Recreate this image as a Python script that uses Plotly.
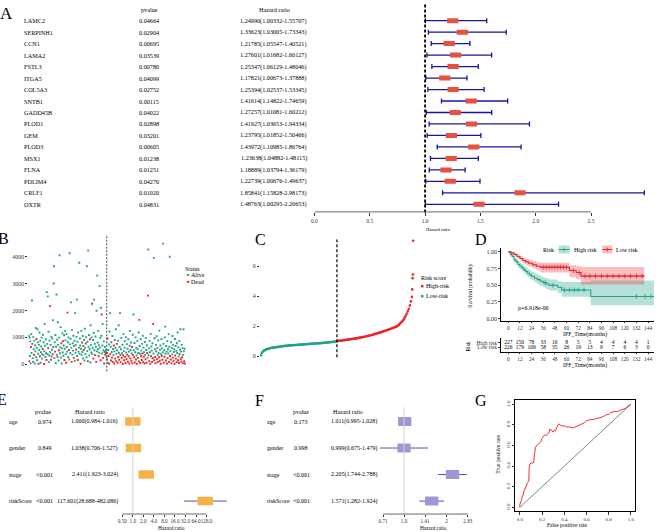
import numpy as np
import plotly.graph_objects as go

W, H = 669, 532
SERIF = "Liberation Serif"
TEAL = "#1FA386"
RED = "#E8262B"
NAVY = "#16169C"
BOXRED = "#EA503E"
ORANGE = "#F8B146"
PURPLE = "#9F97D2"
CI_BLUE = "#5252B6"
TICK = "#333333"

# ---- A: univariate Cox, 17 genes
genes_a = ["LAMC2", "SERPINH1", "CCN1", "LAMA2", "FSTL3", "ITGA5", "COL5A3", "SNTB1",
           "GADD45B", "PLOD1", "GEM", "PLOD3", "MSX1", "FLNA", "PDLIM4", "CRLF1", "OXTR"]
pval_a = [0.04664, 0.02904, 0.00695, 0.03539, 0.00780, 0.04099, 0.02752, 0.00115,
          0.04022, 0.02898, 0.03201, 0.00605, 0.01238, 0.01251, 0.04270, 0.01020, 0.04831]
hr_a = [1.24990, 1.33623, 1.21785, 1.27601, 1.25347, 1.17821, 1.25394, 1.41614,
        1.27257, 1.41927, 1.23795, 1.43972, 1.23638, 1.18889, 1.22739, 1.85841, 1.48763]
lo_a = [1.00332, 1.03005, 1.05547, 1.01682, 1.06129, 1.00673, 1.02537, 1.14822,
        1.01081, 1.03653, 1.01852, 1.10985, 1.04882, 1.03794, 1.00676, 1.15828, 1.00295]
hi_a = [1.55707, 1.73343, 1.40521, 1.60127, 1.48046, 1.37888, 1.53345, 1.74659,
        1.60212, 1.94334, 1.50466, 1.86764, 1.48115, 1.36179, 1.49637, 2.98173, 2.20653]
ticks_a = [0.0, 0.5, 1.0, 1.5, 2.0, 2.5]

# ---- B: survival time by patient (ordered by risk score)
b_low_days = [
    1050, 120, 980, 310, 850, 40, 640, 1120, 420, 2370, 760, 230, 90, 1010, 560, 350, 880, 30, 700, 480,
    1350, 260, 940, 610, 150, 1300, 820, 390, 20, 720, 530, 1180, 300, 870, 60, 450, 660, 990, 210, 380,
    570, 1100, 340, 820, 10, 490, 1500, 690, 270, 930, 410, 160, 2680, 760, 380, 2520, 600, 1210, 80, 330,
    880, 2160, 450, 720, 170, 1020, 290, 540, 960, 380, 1640, 640, 3000, 3640, 230, 820, 470, 1090, 50, 650,
    2590, 360, 910, 280, 1560, 720, 140, 520, 990, 4050, 410, 630, 1380, 250, 780, 30, 590, 1150, 440, 860,
    320, 700, 1080, 160, 580, 1240, 890, 380, 60, 1120, 640, 470, 1920, 820, 270, 1000, 530, 180, 4120, 740,
    420, 950, 2300, 620, 90, 1280, 360, 780, 510, 1060, 240, 680, 870, 130, 1900, 430, 720, 550, 1020, 2400,
    310, 840, 160, 1180, 470, 620, 3770, 390, 960, 700, 20, 580, 1240, 350, 810, 460, 1050, 220, 680, 530,
    900, 140, 1320, 610, 380, 770, 1010, 260, 3640, 490, 840, 120, 4220, 650, 1090, 330, 560, 930, 70, 1450,
    720, 440, 1000, 2250, 380, 610, 900, 210, 1160, 2400, 520, 760, 340, 1030, 650, 90, 1990, 480, 3290, 810,
    560, 1240, 300, 710, 430, 2900, 620, 980, 150, 2100, 1060, 1850, 400, 700, 1500, 240, 520, 850, 30, 460,
    640, 360, 480, 520, 410, 280]
b_high_days = [
    420, 180, 960, 60, 530, 310, 740, 20, 1220, 1900, 380, 650, 140, 820, 460, 250, 1050, 90, 570, 340,
    700, 30, 480, 900, 210, 610, 1300, 120, 390, 760, 520, 60, 880, 270, 1450, 430, 170, 640, 1900, 350,
    80, 560, 980, 240, 410, 720, 10, 330, 1120, 490, 150, 620, 860, 280, 50, 1010, 440, 190, 750, 360,
    580, 100, 930, 300, 470, 30, 690, 1240, 220, 530, 810, 130, 400, 640, 40, 1100, 350, 1850, 520, 260,
    790, 70, 450, 1000, 180, 610, 330, 20, 870, 560, 240, 420, 1180, 110, 1650, 680, 390, 50, 940, 300,
    510, 160, 760, 400, 1060, 80, 620, 280, 450, 30, 830, 350, 190, 980, 530, 60, 710, 420, 250, 2550,
    4260, 340, 590, 120, 870, 450, 20, 1130, 300, 660, 510, 90, 780, 230, 1500, 400, 3950, 150, 970, 560,
    270, 40, 720, 480, 1040, 190, 610, 350, 80, 890, 420, 260, 1250, 130, 540, 700, 20, 380, 930, 310,
    590, 170, 450, 4480, 760, 60, 520, 280, 1000, 1400, 390, 140, 680, 470, 30, 860, 230, 560, 400, 1120,
    90, 650, 3990, 310, 490, 180, 820, 40, 600, 370, 1050, 250, 720, 130, 460, 560, 20, 940, 330, 680,
    210, 500, 80, 780, 420, 1180, 150, 630, 290, 50, 860, 380, 540, 1300, 190, 470, 100, 720, 260, 600,
    40, 350, 1300, 480, 120, 580, 30]
# 1-based positions (inside each group) of patients who died
b_low_dead = [2, 7, 11, 16, 23, 29, 33, 41, 45, 52, 57, 62, 65, 70, 77, 84, 88, 95, 100, 104, 109,
              113, 117, 125, 131, 138, 143, 151, 155, 160, 166, 172, 178, 184, 188, 193, 196, 203,
              209, 212, 216, 219, 222, 225]
b_high_dead = [1, 3, 6, 8, 11, 13, 16, 18, 21, 22, 25, 28, 30, 32, 34, 37, 40, 41, 44, 47, 48, 51,
               54, 55, 58, 60, 62, 64, 66, 69, 72, 74, 75, 77, 80, 82, 85, 88, 91, 94, 95, 98, 100,
               102, 104, 106, 108, 110, 113, 116, 118, 120, 124, 127, 129, 132, 134, 135, 138, 141,
               142, 144, 146, 149, 152, 154, 157, 160, 162, 166, 168, 172, 175, 177, 181, 184, 186,
               188, 192, 194, 197, 199, 201, 203, 207, 210, 212, 215, 217, 219, 221, 225, 227]
ticks_b = [0, 1000, 2000, 3000, 4000]

# ---- C: sorted risk score (every third patient, plus the top tail)
c_low_scores = [
    0.06, 0.22, 0.30, 0.36, 0.40, 0.43, 0.46, 0.48, 0.50, 0.52,
    0.54, 0.55, 0.56, 0.57, 0.58, 0.59, 0.60, 0.61, 0.62, 0.63,
    0.64, 0.65, 0.66, 0.67, 0.68, 0.69, 0.69, 0.70, 0.71, 0.71,
    0.72, 0.72, 0.73, 0.73, 0.74, 0.74, 0.75, 0.75, 0.76, 0.76,
    0.77, 0.77, 0.78, 0.78, 0.79, 0.79, 0.80, 0.80, 0.81, 0.81,
    0.82, 0.82, 0.83, 0.83, 0.84, 0.84, 0.85, 0.85, 0.86, 0.86,
    0.87, 0.87, 0.88, 0.89, 0.89, 0.90, 0.91, 0.91, 0.92, 0.93,
    0.94, 0.94, 0.95, 0.96, 0.97, 0.98]
c_high_scores = [
    1.00, 1.01, 1.02, 1.02, 1.03, 1.04, 1.05, 1.06, 1.07, 1.08,
    1.09, 1.10, 1.11, 1.12, 1.13, 1.14, 1.15, 1.16, 1.17, 1.18,
    1.19, 1.21, 1.22, 1.23, 1.25, 1.26, 1.27, 1.29, 1.30, 1.32,
    1.33, 1.35, 1.37, 1.38, 1.40, 1.42, 1.44, 1.46, 1.48, 1.50,
    1.52, 1.54, 1.56, 1.58, 1.60, 1.63, 1.65, 1.67, 1.70, 1.72,
    1.74, 1.77, 1.79, 1.82, 1.84, 1.87, 1.89, 1.92, 1.95, 1.98,
    2.02, 2.08, 2.15, 2.22, 2.29, 2.36, 2.45, 2.57, 2.70, 2.84,
    3.00, 3.16, 3.38, 3.65, 3.95]
c_tail_scores = [4.45, 5.20, 5.45, 7.70]
c_step = 3
ticks_c = [0, 2, 4, 6]

# ---- D: Kaplan-Meier by risk group
km_high_t = [0, 2, 4, 6, 8, 10, 12, 14, 16, 18, 20, 22, 24, 27, 30, 33, 36, 39, 42, 51, 55, 85, 150]
km_high_s = [1.0, 0.96, 0.93, 0.88, 0.85, 0.81, 0.785, 0.76, 0.73, 0.705, 0.68, 0.655, 0.635,
             0.605, 0.585, 0.56, 0.54, 0.52, 0.50, 0.47, 0.43, 0.333, 0.333]
km_high_lo = [1.0, 0.935, 0.90, 0.845, 0.81, 0.765, 0.735, 0.71, 0.675, 0.65, 0.62, 0.595, 0.57,
              0.54, 0.515, 0.49, 0.465, 0.445, 0.42, 0.385, 0.33, 0.20, 0.20]
km_high_up = [1.0, 0.985, 0.96, 0.915, 0.89, 0.855, 0.835, 0.815, 0.785, 0.765, 0.74, 0.72, 0.70,
              0.675, 0.655, 0.635, 0.615, 0.60, 0.585, 0.56, 0.55, 0.57, 0.57]
km_high_cens = [38, 46, 58, 63, 68, 72, 78, 132, 141, 147]
km_low_t = [0, 3, 6, 9, 12, 15, 18, 21, 25, 29, 33, 63, 70, 75, 140]
km_low_s = [1.0, 0.985, 0.96, 0.93, 0.90, 0.87, 0.85, 0.83, 0.805, 0.785, 0.77, 0.72, 0.69, 0.637, 0.637]
km_low_lo = [1.0, 0.97, 0.935, 0.90, 0.865, 0.83, 0.805, 0.78, 0.75, 0.725, 0.69, 0.62, 0.59, 0.51, 0.51]
km_low_up = [1.0, 1.0, 0.985, 0.96, 0.935, 0.91, 0.895, 0.88, 0.86, 0.845, 0.835, 0.80, 0.785, 0.775, 0.775]
km_low_cens = [36, 39, 42, 45, 48, 51, 54, 57, 60, 67, 73, 79, 84, 90, 96, 102, 108, 114, 120,
               126, 132, 138]
risk_times = [0, 12, 24, 36, 48, 60, 72, 84, 96, 108, 120, 132, 144]
risk_high = [227, 150, 78, 33, 16, 8, 5, 5, 4, 4, 4, 4, 1]
risk_low = [226, 179, 109, 58, 35, 26, 19, 13, 9, 7, 6, 3, 0]
km_p = "p=6.918e-06"

# ---- E / F: uni- and multivariate Cox of clinical factors
vars_ef = ["age", "gender", "stage", "riskScore"]
p_e = ["0.974", "0.849", "<0.001", "<0.001"]
hr_e = [1.000, 1.038, 2.411, 117.601]
lo_e = [0.984, 0.706, 1.923, 28.688]
hi_e = [1.016, 1.527, 3.024, 482.086]
ticks_e = [0.5, 1, 2, 4, 8, 16, 32, 64, 128]
p_f = ["0.173", "0.998", "<0.001", "<0.001"]
hr_f = [1.011, 0.999, 2.205, 1.571]
lo_f = [0.995, 0.675, 1.744, 1.282]
hi_f = [1.028, 1.479, 2.788, 1.924]
ticks_f = [0.71, 1.0, 1.41, 2.0, 2.83]

# ---- G: ROC
roc_fpr = [0.00, 0.00, 0.01, 0.015, 0.02, 0.03, 0.035, 0.045, 0.05, 0.06, 0.07, 0.08, 0.08, 0.085,
           0.09, 0.10, 0.12, 0.125, 0.13, 0.135, 0.14, 0.15, 0.165, 0.18, 0.19, 0.20, 0.21, 0.22,
           0.24, 0.25, 0.26, 0.27, 0.28, 0.29, 0.30, 0.31, 0.32, 0.33, 0.34, 0.35, 0.36, 0.38,
           0.40, 0.42, 0.45, 0.48, 0.50, 0.52, 0.55, 0.58, 0.60, 0.63, 0.67, 0.70, 0.72, 0.75,
           0.78, 0.80, 0.82, 0.85, 0.88, 0.90, 0.93, 0.95, 0.97, 1.00]
roc_tpr = [0.00, 0.03, 0.06, 0.07, 0.10, 0.12, 0.15, 0.18, 0.20, 0.23, 0.24, 0.25, 0.33, 0.40,
           0.42, 0.43, 0.43, 0.44, 0.50, 0.56, 0.58, 0.60, 0.61, 0.63, 0.64, 0.67, 0.69, 0.70,
           0.70, 0.71, 0.72, 0.76, 0.75, 0.74, 0.73, 0.75, 0.74, 0.77, 0.80, 0.81, 0.80, 0.79,
           0.79, 0.78, 0.78, 0.77, 0.78, 0.79, 0.80, 0.82, 0.84, 0.85, 0.855, 0.86, 0.87, 0.88,
           0.90, 0.90, 0.92, 0.93, 0.93, 0.94, 0.95, 0.96, 0.98, 1.00]
ticks_g = [0.0, 0.2, 0.4, 0.6, 0.8, 1.0]

annotations, shapes = [], []


def xdom(a, b):
    return [a / W, b / W]


def ydom(top, bottom):
    return [1 - bottom / H, 1 - top / H]


def note(x, y, text, size=6, anchor="center", yref="paper", angle=0, color="black"):
    annotations.append(dict(
        x=x / W, xref="paper", y=(1 - y / H) if yref == "paper" else y, yref=yref,
        text=text, showarrow=False, xanchor=anchor, yanchor="middle", textangle=angle,
        borderpad=0, font=dict(family=SERIF, size=size, color=color)))


def vline(xref, x, top, bottom, color="black", width=1, dash="solid"):
    shapes.append(dict(type="line", xref=xref, yref="paper", x0=x, x1=x,
                       y0=1 - bottom / H, y1=1 - top / H,
                       line=dict(color=color, width=width, dash=dash)))


def hline(xref, x0, x1, y, color="#444", width=0.8):
    shapes.append(dict(type="line", xref=xref, yref="paper", x0=x0, x1=x1,
                       y0=1 - y / H, y1=1 - y / H, line=dict(color=color, width=width)))


def box_px(x0, y0, x1, y1, fill):
    shapes.append(dict(type="rect", xref="paper", yref="paper", x0=x0 / W, x1=x1 / W,
                       y0=1 - y1 / H, y1=1 - y0 / H, fillcolor=fill, line=dict(width=0)))


def seg_px(x0, y0, x1, y1, color, width=1):
    shapes.append(dict(type="line", xref="paper", yref="paper", x0=x0 / W, x1=x1 / W,
                       y0=1 - y0 / H, y1=1 - y1 / H, line=dict(color=color, width=width)))


def axis(dom, rng, **kw):
    a = dict(domain=dom, range=rng, showgrid=False, zeroline=False, showline=False,
             ticks="", showticklabels=False, fixedrange=True)
    a.update(kw)
    return a


def tickstyle(size=6, length=2):
    return dict(ticks="outside", ticklen=length, tickwidth=0.6, tickcolor=TICK,
                showticklabels=True, tickangle=0,
                tickfont=dict(family=SERIF, size=size, color=TICK))


fig = go.Figure()

# ================= A
rows_a = np.arange(len(genes_a))
hr, lo, hi = np.array(hr_a), np.array(lo_a), np.array(hi_a)
fig.add_trace(go.Scatter(
    x=hr, y=rows_a, mode="markers", xaxis="x", yaxis="y",
    marker=dict(symbol="line-ew", size=8, color=BOXRED, line=dict(width=5, color=BOXRED)),
    error_x=dict(type="data", symmetric=False, array=hi - hr, arrayminus=hr - lo,
                 color=NAVY, thickness=1.3, width=2.5)))
for i, (g, p, h, l, u) in enumerate(zip(genes_a, pval_a, hr_a, lo_a, hi_a)):
    note(20, i, g, size=6.2, anchor="left", yref="y")
    note(147, i, f"{p:.5f}", size=6.2, yref="y")
    note(272.5, i, f"{h:.5f}({l:.5f}-{u:.5f})", size=6.2, yref="y")
note(147, 10, "pvalue", size=6.2)
note(273, 10, "Hazard ratio", size=6.2)
note(438, 230, "Hazard ratio", size=4.8)
note(4, 14, "A", size=17)
vline("x", 1, 3, 213, color="black", width=1.8, dash="3px,2px")
hline("x", ticks_a[0], ticks_a[-1], 212.3)

# ================= B
n_low, n_high = len(b_low_days), len(b_high_days)
days = np.array(b_low_days + b_high_days)
dead = np.zeros(len(days), bool)
dead[np.array(b_low_dead) - 1] = True
dead[n_low + np.array(b_high_dead) - 1] = True
idx = np.arange(1, len(days) + 1)
for mask, col in [(~dead, TEAL), (dead, RED)]:
    fig.add_trace(go.Scatter(x=idx[mask], y=days[mask], mode="markers", xaxis="x2", yaxis="y2",
                             marker=dict(symbol="square", size=1.9, color=col)))
vline("x2", n_low + 0.5, 235, 372, color="#555", width=1.1, dash="2px,1.5px")
note(0, 239, "B", size=16)
note(182, 270, "Status", size=6, anchor="left")
box_px(185, 274.6, 187.4, 276.4, TEAL)
note(188.5, 275.5, "Alive", size=6, anchor="left")
box_px(185, 281.4, 187.4, 283.2, RED)
note(188.5, 282.3, "Dead", size=6, anchor="left")

# ================= C
low_rank = np.arange(1, n_low + 1, c_step)
high_rank = np.arange(n_low + 1, n_low + n_high - len(c_tail_scores) + 1, c_step)
tail_rank = np.arange(n_low + n_high - len(c_tail_scores) + 1, n_low + n_high + 1)
fig.add_trace(go.Scatter(x=low_rank, y=c_low_scores, mode="markers", xaxis="x3", yaxis="y3",
                         marker=dict(size=2.6, color=TEAL)))
fig.add_trace(go.Scatter(x=np.concatenate([high_rank, tail_rank]),
                         y=c_high_scores + c_tail_scores, mode="markers", xaxis="x3", yaxis="y3",
                         marker=dict(size=2.6, color=RED)))
vline("x3", n_low + 0.5, 240, 358, color="black", width=1.2, dash="3px,2px")
note(259, 240, "C", size=16)
note(419.5, 279, "Risk score", size=6, anchor="left")
box_px(420.5, 285.5, 423, 288, RED)
note(425, 286.7, "High-risk", size=6, anchor="left")
box_px(420.5, 295.5, 423, 298, TEAL)
note(425, 296.7, "Low-risk", size=6, anchor="left")

# ================= D
band = {TEAL: "rgba(31,163,134,0.32)", RED: "rgba(232,38,43,0.30)"}
groups = [(km_high_t, km_high_s, km_high_lo, km_high_up, km_high_cens, TEAL),
          (km_low_t, km_low_s, km_low_lo, km_low_up, km_low_cens, RED)]
for t, s, l, u, cens, col in groups:
    fig.add_trace(go.Scatter(x=t, y=u, mode="lines", line=dict(width=0, shape="hv"),
                             xaxis="x4", yaxis="y4"))
    fig.add_trace(go.Scatter(x=t, y=l, mode="lines", line=dict(width=0, shape="hv"),
                             fill="tonexty", fillcolor=band[col], xaxis="x4", yaxis="y4"))
for t, s, l, u, cens, col in groups:
    fig.add_trace(go.Scatter(x=t, y=s, mode="lines", line=dict(width=1.1, shape="hv", color=col),
                             xaxis="x4", yaxis="y4"))
    pos = np.searchsorted(t, cens, side="right") - 1
    fig.add_trace(go.Scatter(x=cens, y=np.array(s)[pos], mode="markers", xaxis="x4", yaxis="y4",
                             marker=dict(symbol="cross-thin", size=3.5,
                                         line=dict(width=0.8, color=col))))
fig.add_trace(go.Scatter(x=risk_times, y=[1] * len(risk_times), text=[str(v) for v in risk_high],
                         mode="text", textfont=dict(family=SERIF, size=5.5), cliponaxis=False,
                         xaxis="x5", yaxis="y5"))
fig.add_trace(go.Scatter(x=risk_times, y=[0] * len(risk_times), text=[str(v) for v in risk_low],
                         mode="text", textfont=dict(family=SERIF, size=5.5), cliponaxis=False,
                         xaxis="x5", yaxis="y5"))
note(481, 240, "D", size=16)
note(534, 309, km_p, size=6)
note(470, 286, "Survival probability", size=5.5, angle=-90)
note(585, 335, "IPF_Time(months)", size=5.8)
note(468, 347, "Risk", size=5.5, angle=-90)
note(585, 366.5, "IPF_Time(months)", size=5.8)
note(549, 250, "Risk", size=6)
for (x0, x1, txt_x, name), col in [((559, 570, 573, "High risk"), TEAL),
                                   ((603, 613, 616, "Low risk"), RED)]:
    box_px(x0, 246, x1, 254, band[col])
    seg_px(x0, 250, x1, 250, col, 1)
    seg_px((x0 + x1) / 2, 248, (x0 + x1) / 2, 252, col, 0.8)
    note(txt_x, 250, name, size=6, anchor="left")

# ================= E and F
rows_ef = np.arange(len(vars_ef))
for (hrs, los, his, ax, col, size, width) in [(hr_e, lo_e, hi_e, "6", ORANGE, 11, 8.5),
                                             (hr_f, lo_f, hi_f, "7", PURPLE, 9.5, 9)]:
    lh, ll, lu = np.log2(hrs), np.log2(los), np.log2(his)
    fig.add_trace(go.Scatter(
        x=lh, y=rows_ef, mode="markers", xaxis="x" + ax, yaxis="y" + ax,
        marker=dict(symbol="line-ew", size=size, color=col, line=dict(width=width, color=col)),
        error_x=dict(type="data", symmetric=False, array=lu - lh, arrayminus=lh - ll,
                     color=CI_BLUE, thickness=1, width=0)))
for i, (v, p, h, l, u) in enumerate(zip(vars_ef, p_e, hr_e, lo_e, hi_e)):
    note(5, i, v, size=6, anchor="left", yref="y6")
    note(42, i, p, size=6, yref="y6")
    note(117, i, f"{h:.3f}({l:.3f}-{u:.3f})", size=6, anchor="right", yref="y6")
for i, (v, p, h, l, u) in enumerate(zip(vars_ef, p_f, hr_f, lo_f, hi_f)):
    note(265, i, v, size=6, anchor="left", yref="y7")
    note(300, i, p, size=6, yref="y7")
    note(329, i, f"{h:.3f}({l:.3f}-{u:.3f})", size=6, anchor="left", yref="y7")
note(40, 413, "pvalue", size=6)
note(88, 413, "Hazard ratio", size=6)
note(300, 413, "pvalue", size=6)
note(347, 413, "Hazard ratio", size=6)
note(170, 528.5, "Hazard ratio", size=5.3)
note(433, 528.5, "Hazard ratio", size=5.3)
note(-1, 400, "E", size=16)
note(258, 401, "F", size=16)
vline("x6", 0, 408, 515, color="#D4D4D4", width=1)
vline("x7", 0, 408, 515, color="#D4D4D4", width=1)
hline("x6", np.log2(ticks_e[0]), np.log2(ticks_e[-1]), 515)
hline("x7", np.log2(ticks_f[0]), np.log2(ticks_f[-1]), 515)

# ================= G
fig.add_trace(go.Scatter(x=roc_fpr, y=roc_tpr, mode="lines", xaxis="x8", yaxis="y8",
                         line=dict(color="#F2302E", width=1)))
shapes.append(dict(type="line", xref="x8", yref="y8", x0=0, y0=0, x1=1, y1=1,
                   line=dict(color="#666", width=0.8)))
note(480.5, 401, "G", size=16)
note(568, 526, "False positive rate", size=5.5)
note(498.5, 455, "True positive rate", size=5.5, angle=-90)

axes = dict(
    xaxis=axis(xdom(313.3, 652.8), [0, 3.05], anchor="y", tickvals=ticks_a,
               ticktext=[f"{v:.1f}" for v in ticks_a], **tickstyle(5.5, 3)),
    yaxis=axis(ydom(3, 212.3), [16.66, -1.539], anchor="x"),
    xaxis2=axis(xdom(25.5, 186), [-0.44, 461.7], anchor="y2"),
    yaxis2=axis(ydom(235, 372), [-259, 4815], anchor="x2", tickvals=ticks_b, **tickstyle(6)),
    xaxis3=axis(xdom(258.5, 415), [-1.95, 459.7], anchor="y3"),
    yaxis3=axis(ydom(238, 362), [-0.353, 7.913], anchor="x3", tickvals=ticks_c, **tickstyle(6)),
    xaxis4=axis(xdom(501, 655), [-7.47, 150.2], anchor="y4", tickvals=risk_times,
                showline=True, linecolor="black", linewidth=0.8, **tickstyle(5.3, 1.5)),
    yaxis4=axis(ydom(248.3, 321.7), [-0.036, 1.06], anchor="x4",
                tickvals=[0, 0.25, 0.5, 0.75, 1.0],
                ticktext=["0.00", "0.25", "0.50", "0.75", "1.00"],
                showline=True, linecolor="black", linewidth=0.8, **tickstyle(6)),
    xaxis5=axis(xdom(501, 655), [-7.47, 150.2], anchor="y5", tickvals=risk_times,
                showline=True, linecolor="black", linewidth=0.8, **tickstyle(5.3, 1.5)),
    yaxis5=axis(ydom(339, 352.7), [-1.0, 1.915], anchor="x5", tickvals=[1, 0],
                ticktext=["High risk", "Low risk"],
                showline=True, linecolor="black", linewidth=0.8, **tickstyle(5.5)),
    xaxis6=axis(xdom(117, 228), [-1.283, 9.189], anchor="y6", tickvals=np.log2(ticks_e),
                ticktext=[f"{v:.2f}" if v < 1 else f"{v:.1f}" for v in ticks_e],
                **tickstyle(5.2, 2)),
    yaxis6=axis(ydom(408, 515), [3.489, -0.538], anchor="x6"),
    xaxis7=axis(xdom(375, 472), [-0.667, 1.604], anchor="y7", tickvals=np.log2(ticks_f),
                ticktext=[f"{v:g}" if v != 1 else "1.0" for v in ticks_f], **tickstyle(5.2, 2)),
    yaxis7=axis(ydom(408, 515), [3.489, -0.538], anchor="x7"),
    xaxis8=axis(xdom(515.5, 636.2), [-0.04, 1.04], anchor="y8", tickvals=ticks_g,
                ticktext=[f"{v:.1f}" for v in ticks_g], showline=True, mirror=True,
                linecolor="black", linewidth=0.8, **tickstyle(5, 3)),
    yaxis8=axis(ydom(400.9, 512.4), [-0.04, 1.04], anchor="x8", tickvals=ticks_g,
                ticktext=[f"{v:.1f}" for v in ticks_g], showline=True, mirror=True,
                linecolor="black", linewidth=0.8, **tickstyle(5, 3)),
)
axes["yaxis8"]["tickangle"] = -90

fig.update_layout(width=W, height=H, margin=dict(l=0, r=0, t=0, b=0),
                  paper_bgcolor="white", plot_bgcolor="white", showlegend=False,
                  font=dict(family=SERIF, size=6, color="black"),
                  annotations=annotations, shapes=shapes, **axes)
# the page's default body margin would push the fixed-size figure 8px off
fig.write_html("out.html", config={"displayModeBar": False},
               post_script="document.body.style.margin='0';")
